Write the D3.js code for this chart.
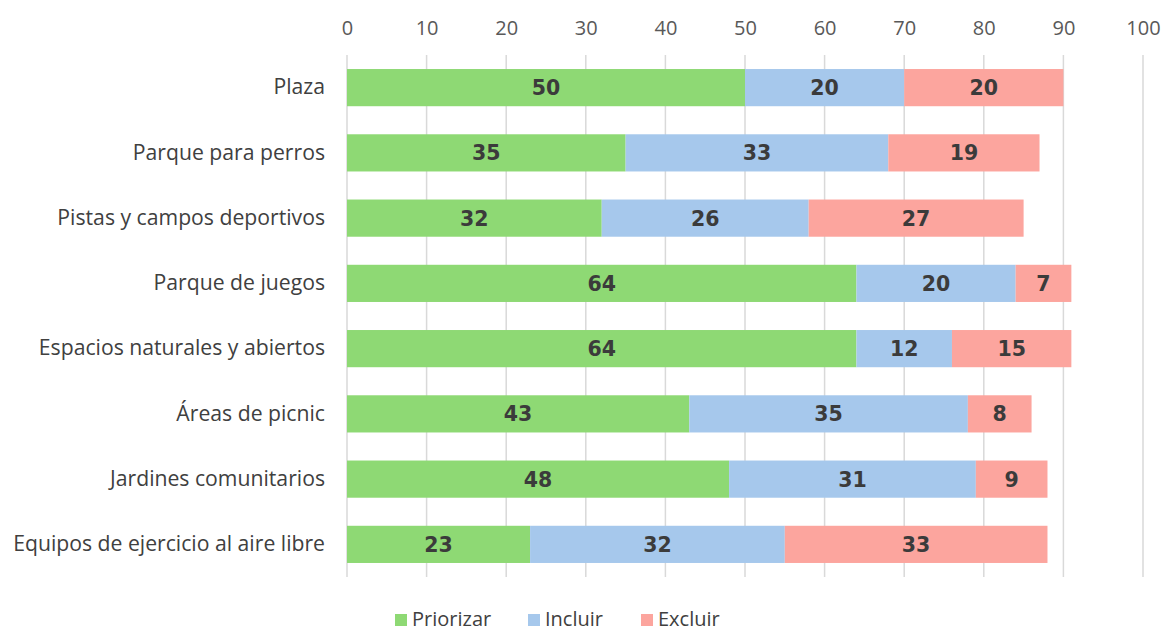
<!DOCTYPE html>
<html><head><meta charset="utf-8">
<script src="https://cdn.jsdelivr.net/npm/d3@7"></script>
<style>body{margin:0;background:#fff}</style>
</head><body>
<svg id="c" width="1165" height="633"></svg>
<script>
const categories = ["Plaza","Parque para perros","Pistas y campos deportivos","Parque de juegos","Espacios naturales y abiertos","Áreas de picnic","Jardines comunitarios","Equipos de ejercicio al aire libre"];
const seriesNames = ["Priorizar","Incluir","Excluir"];
const priorizar = [50,35,32,64,64,43,48,23];
const incluir = [20,33,26,20,12,35,31,32];
const excluir = [20,19,27,7,15,8,9,33];
const tickValues = [0,10,20,30,40,50,60,70,80,90,100];
const colors = ["#8ed974","#a6c8ec","#fca59e"];

const svg = d3.select("#c");
const x = d3.scaleLinear().domain([0,100]).range([347,1143]);
const y = d3.scaleBand().domain(categories).range([55,577]).paddingInner(0.43).paddingOuter(0.215);

const rows = categories.map((c,i)=>({cat:c, Priorizar:priorizar[i], Incluir:incluir[i], Excluir:excluir[i]}));
const stack = d3.stack().keys(seriesNames)(rows);

// gridlines
svg.append("g").selectAll("line").data(tickValues).join("line")
  .attr("x1",d=>x(d)).attr("x2",d=>x(d)).attr("y1",55).attr("y2",577)
  .attr("stroke","#d9d9d9").attr("stroke-width",1.5);

// top axis labels
const ax = svg.append("g").attr("transform","translate(0,28)")
  .call(d3.axisTop(x).tickValues(tickValues).tickSize(0).tickPadding(0));
ax.select(".domain").remove();
ax.selectAll("text").attr("font-family","Open Sans").attr("font-size",20).attr("fill","#595959").attr("dy","0.35em");

// category labels
const ay = svg.append("g").attr("transform","translate(325,0)")
  .call(d3.axisLeft(y).tickSize(0).tickPadding(0));
ay.select(".domain").remove();
ay.selectAll("text").attr("font-family","Open Sans").attr("font-size",21.2).attr("fill","#404040");

// bars
const layers = svg.append("g").selectAll("g").data(stack).join("g").attr("fill",(d,i)=>colors[i]);
layers.selectAll("rect").data(d=>d).join("rect")
  .attr("x",d=>x(d[0])).attr("width",d=>x(d[1])-x(d[0]))
  .attr("y",d=>y(d.data.cat)).attr("height",y.bandwidth());
layers.selectAll("text").data(d=>d).join("text")
  .attr("x",d=>(x(d[0])+x(d[1]))/2).attr("y",d=>y(d.data.cat)+y.bandwidth()/2)
  .attr("dy","0.36em").attr("text-anchor","middle")
  .attr("font-family","DejaVu Sans").attr("font-weight","bold").attr("font-size",20.5)
  .attr("fill","#3b3b3b").text(d=>d[1]-d[0]);

// legend
const legX = [395,528,641];
const lg = svg.append("g").selectAll("g").data(seriesNames).join("g")
  .attr("transform",(d,i)=>`translate(${legX[i]},619)`);
lg.append("rect").attr("x",0).attr("y",-5).attr("width",12).attr("height",12).attr("fill",(d,i)=>colors[i]);
lg.append("text").attr("x",17).attr("dy","0.36em").attr("font-family","Open Sans").attr("font-size",20)
  .attr("fill","#404040").text(d=>d);
</script>
</body></html>
